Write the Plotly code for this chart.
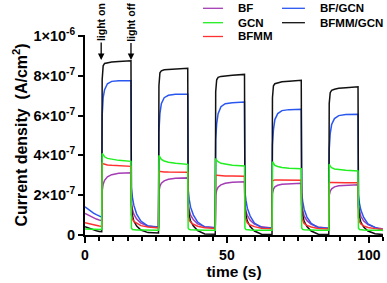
import plotly.graph_objects as go

# time (s)
time_s = [0, 1, 2, 3, 4, 5,
          5.9, 6.05, 6.4, 6.9, 7.9, 9.4, 11.9, 16.2, 16.35, 16.7, 17.2, 18.2, 19.7, 22.2,
          25.9, 26.05, 26.4, 26.9, 27.9, 29.4, 31.9, 36.2, 36.35, 36.7, 37.2, 38.2, 39.7, 42.2,
          45.9, 46.05, 46.4, 46.9, 47.9, 49.4, 51.9, 56.2, 56.35, 56.7, 57.2, 58.2, 59.7, 62.2,
          65.9, 66.05, 66.4, 66.9, 67.9, 69.4, 71.9, 76.2, 76.35, 76.7, 77.2, 78.2, 79.7, 82.2,
          85.9, 86.05, 86.4, 86.9, 87.9, 89.4, 91.9, 96.2, 96.35, 96.7, 97.2, 98.2, 99.7, 102.2,
          105]

# current density in units of 1e-7 A/cm2
bf = [1.08, 1.0, 0.93, 0.86, 0.8, 0.75,
      0.72, 2.2, 2.55, 2.75, 2.92, 3.03, 3.1, 3.13, 1.6, 1.3, 1.05, 0.8, 0.6, 0.45,
      0.38, 2.2, 2.45, 2.6, 2.72, 2.8, 2.85, 2.87, 1.55, 1.25, 1.0, 0.76, 0.56, 0.42,
      0.36, 2.0, 2.25, 2.4, 2.52, 2.6, 2.65, 2.67, 1.5, 1.2, 0.98, 0.74, 0.55, 0.41,
      0.35, 2.1, 2.3, 2.42, 2.5, 2.55, 2.58, 2.6, 1.48, 1.18, 0.96, 0.72, 0.54, 0.4,
      0.34, 2.0, 2.2, 2.32, 2.42, 2.47, 2.5, 2.52, 1.45, 1.15, 0.94, 0.7, 0.52, 0.38,
      0.3]
gcn = [0.3, 0.3, 0.29, 0.29, 0.28, 0.28,
       0.28, 4.1, 4.0, 3.93, 3.85, 3.8, 3.75, 3.7, 0.35, 0.28, 0.26, 0.25, 0.25, 0.24,
       0.24, 4.0, 3.88, 3.8, 3.72, 3.66, 3.6, 3.55, 0.35, 0.28, 0.26, 0.25, 0.24, 0.24,
       0.24, 3.85, 3.75, 3.68, 3.6, 3.55, 3.5, 3.47, 0.35, 0.28, 0.26, 0.25, 0.24, 0.24,
       0.24, 3.68, 3.58, 3.5, 3.44, 3.39, 3.36, 3.33, 0.35, 0.28, 0.26, 0.25, 0.24, 0.24,
       0.24, 3.56, 3.46, 3.38, 3.32, 3.28, 3.25, 3.22, 0.35, 0.28, 0.26, 0.25, 0.24, 0.24,
       0.24]
bfmm = [0.62, 0.58, 0.54, 0.5, 0.47, 0.45,
        0.44, 3.6, 3.58, 3.55, 3.52, 3.5, 3.47, 3.45, 1.0, 0.8, 0.68, 0.58, 0.47, 0.4,
        0.36, 3.2, 3.2, 3.18, 3.17, 3.16, 3.15, 3.15, 0.95, 0.75, 0.64, 0.54, 0.44, 0.36,
        0.33, 3.0, 3.0, 2.99, 2.98, 2.97, 2.96, 2.95, 0.9, 0.72, 0.6, 0.5, 0.42, 0.34,
        0.31, 2.72, 2.76, 2.77, 2.77, 2.76, 2.76, 2.75, 0.88, 0.7, 0.58, 0.48, 0.4, 0.33,
        0.3, 2.6, 2.64, 2.64, 2.63, 2.63, 2.62, 2.62, 0.86, 0.68, 0.56, 0.46, 0.38, 0.32,
        0.28]
bf_gcn = [1.42, 1.3, 1.2, 1.1, 1.02, 0.95,
          0.9, 6.0, 6.9, 7.3, 7.6, 7.72, 7.75, 7.75, 2.4, 1.9, 1.5, 1.05, 0.7, 0.45,
          0.4, 5.2, 6.1, 6.6, 6.9, 7.02, 7.07, 7.07, 2.3, 1.8, 1.4, 1.0, 0.65, 0.4,
          0.37, 4.8, 5.6, 6.1, 6.45, 6.6, 6.65, 6.68, 2.2, 1.75, 1.35, 0.95, 0.6, 0.38,
          0.35, 4.5, 5.3, 5.8, 6.1, 6.25, 6.3, 6.32, 2.1, 1.7, 1.3, 0.9, 0.58, 0.36,
          0.34, 4.3, 5.1, 5.55, 5.85, 6.0, 6.05, 6.07, 2.0, 1.6, 1.25, 0.88, 0.56, 0.38,
          0.22]
bfmm_gcn = [0.42, 0.36, 0.3, 0.25, 0.21, 0.18,
            0.17, 7.8, 8.5, 8.62, 8.66, 8.69, 8.72, 8.75, 1.5, 1.0, 0.7, 0.45, 0.25, 0.12,
            0.1, 7.5, 8.15, 8.25, 8.3, 8.32, 8.35, 8.38, 1.5, 1.0, 0.7, 0.45, 0.22, 0.05,
            0.04, 7.2, 7.8, 7.92, 7.97, 8.0, 8.03, 8.07, 1.5, 1.0, 0.7, 0.42, 0.2, 0.04,
            0.03, 6.9, 7.5, 7.6, 7.65, 7.7, 7.73, 7.77, 1.5, 1.0, 0.7, 0.42, 0.2, 0.04,
            0.03, 6.6, 7.15, 7.27, 7.32, 7.37, 7.4, 7.45, 1.4, 0.95, 0.65, 0.4, 0.2, 0.06,
            0.02]

series_names = ["BF", "GCN", "BFMM", "BF/GCN", "BFMM/GCN"]
series_vals = [bf, gcn, bfmm, bf_gcn, bfmm_gcn]
series_colors = ["#a43cb4", "#22ee22", "#ff3030", "#2a56f0", "#111111"]

y_tickvals = [0, 2, 4, 6, 8, 10]
y_ticktext = ["<b>0</b>", "<b>2×10<sup>-7</sup></b>", "<b>4×10<sup>-7</sup></b>",
              "<b>6×10<sup>-7</sup></b>", "<b>8×10<sup>-7</sup></b>", "<b>1×10<sup>-6</sup></b>"]
x_tickvals = [0, 50, 100]
x_ticktext = ["<b>0</b>", "<b>50</b>", "<b>100</b>"]

FONT = "Liberation Sans, Arial, sans-serif"

fig = go.Figure()
for i in [0, 3, 4, 2, 1]:
    fig.add_trace(go.Scatter(x=time_s, y=series_vals[i], mode="lines", name=series_names[i],
                             line=dict(color=series_colors[i], width=1.5), showlegend=False))

fig.update_layout(
    width=387, height=283,
    margin=dict(l=85, r=4, t=35, b=48),
    paper_bgcolor="white", plot_bgcolor="white",
    font=dict(family=FONT, size=12, color="black"),
    showlegend=False,
)
fig.update_xaxes(range=[0, 105], showline=True, linecolor="black", linewidth=2,
                 ticks="outside", ticklen=6, tickwidth=2, tickcolor="black",
                 tickvals=x_tickvals, ticktext=x_ticktext, showgrid=False, zeroline=False,
                 automargin=False,
                 minor=dict(dtick=5, tick0=0, ticks="outside", ticklen=4, tickwidth=1.5,
                            tickcolor="black", showgrid=False),
                 tickfont=dict(size=14),
                 title=dict(text="<b>time (s)</b>", font=dict(size=15.5), standoff=0))
fig.update_yaxes(range=[0, 10.05], showline=True, linecolor="black", linewidth=2,
                 ticks="outside", ticklen=5, tickwidth=2, tickcolor="black",
                 tickvals=y_tickvals, ticktext=y_ticktext, showgrid=False, zeroline=False,
                 automargin=False,
                 tickfont=dict(size=14.5),
                 title=dict(text="<b>Current density  (A/cm<sup>2</sup>)</b>",
                            font=dict(size=16), standoff=2))

# light on / off markers
for tx, label in [(5.7, "light on"), (16.2, "light off")]:
    fig.add_annotation(x=tx, y=8.8, xref="x", yref="y", text="<b>" + label + "</b>",
                       textangle=-90, showarrow=True, arrowhead=2, arrowsize=1,
                       arrowwidth=1.3, arrowcolor="black", ax=0, ay=-38, standoff=0,
                       font=dict(size=10.5, color="black"))

# legend (two columns), positioned in paper coordinates
leg_cols = [(0.396, 0.463, 0.508), (0.661, 0.738, 0.782)]
leg_rows = [1.1335, 1.0615, 0.9925]
leg_pos = [(0, 0), (0, 1), (0, 2), (1, 0), (1, 1)]
for k, (c, r) in enumerate(leg_pos):
    x0, x1, xt = leg_cols[c]
    yy = leg_rows[r]
    fig.add_shape(type="line", xref="paper", yref="paper", x0=x0, x1=x1, y0=yy, y1=yy,
                  line=dict(color=series_colors[k], width=1.3))
    fig.add_annotation(xref="paper", yref="paper", x=xt, y=yy, xanchor="left",
                       yanchor="middle", showarrow=False,
                       text="<b>" + series_names[k] + "</b>", font=dict(size=11.5))

# remove the page's default 8px body margin so the figure sits at the window corner
fig.write_html("out.html",
               config={"displayModeBar": False},
               post_script="document.body.style.margin='0px';document.body.style.padding='0px';")
